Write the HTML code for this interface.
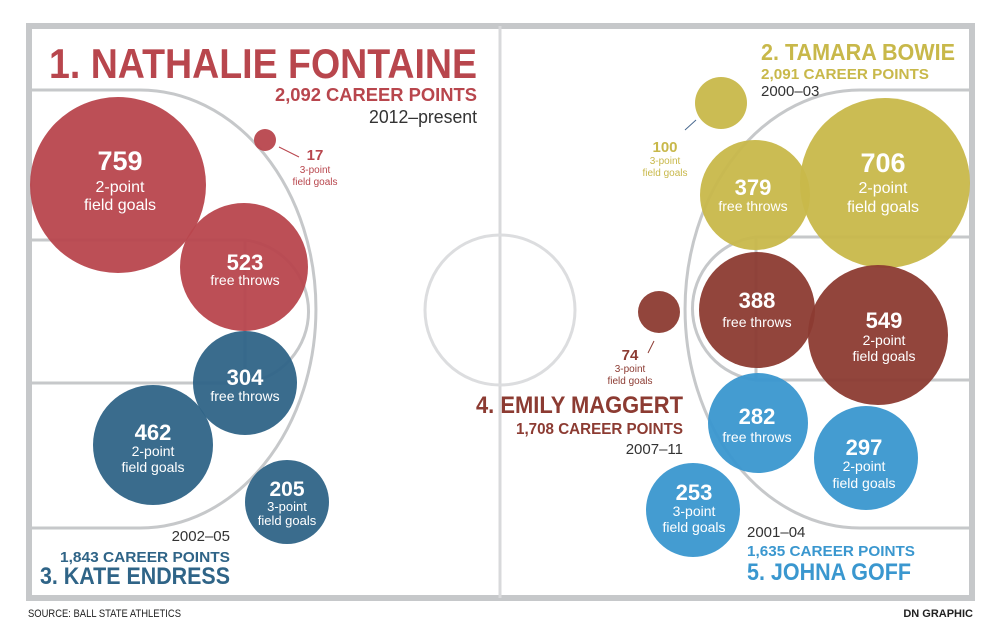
<!DOCTYPE html>
<html><head><meta charset="utf-8"><style>
html,body{margin:0;padding:0;background:#fff;}
svg{display:block;}
text{font-family:"Liberation Sans",sans-serif;}
.b{font-weight:bold;}
</style></head><body>
<svg width="1000" height="632" viewBox="0 0 1000 632" xmlns="http://www.w3.org/2000/svg">
<rect x="0" y="0" width="1000" height="632" fill="#fff"/>
<g fill="none" stroke="#c6c8ca">
<rect x="29" y="26" width="943" height="572" stroke-width="6"/>
<line x1="500" y1="26" x2="500" y2="598" stroke-width="3" stroke="#d8d9db"/>
<circle cx="500" cy="310" r="75" stroke-width="3" stroke="#dcdddf"/>
<path d="M30 90 H140 A176 219 0 0 1 140 528 H30" stroke-width="3"/>
<path d="M30 240 H245 V383 H30" stroke-width="3"/>
<path d="M245 240 A72 72 0 0 1 245 383" stroke-width="3"/>
<path d="M971 90 H860 A175 219 0 0 0 860 528 H971" stroke-width="3"/>
<path d="M971 237 H756 V380 H971" stroke-width="3"/>
<path d="M756 237 A72 72 0 0 0 756 380" stroke-width="3"/>
</g>
<g fill-opacity="0.95">
<circle cx="118" cy="185" r="88" fill="#b8464d"/>
<circle cx="244" cy="267" r="64" fill="#b8464d"/>
<circle cx="265" cy="140" r="11" fill="#b8464d"/>
<circle cx="245" cy="383" r="52" fill="#2f6487"/>
<circle cx="153" cy="445" r="60" fill="#2f6487"/>
<circle cx="287" cy="502" r="42" fill="#2f6487"/>
<circle cx="721" cy="103" r="26" fill="#c8b84a"/>
<circle cx="755" cy="195" r="55" fill="#c8b84a"/>
<circle cx="885" cy="183" r="85" fill="#c8b84a"/>
<circle cx="757" cy="310" r="58" fill="#8c3b32"/>
<circle cx="878" cy="335" r="70" fill="#8c3b32"/>
<circle cx="659" cy="312" r="21" fill="#8c3b32"/>
<circle cx="758" cy="423" r="50" fill="#3a97cf"/>
<circle cx="866" cy="458" r="52" fill="#3a97cf"/>
<circle cx="693" cy="510" r="47" fill="#3a97cf"/>
</g>
<line x1="279" y1="147" x2="299" y2="157" stroke="#b8464d" stroke-width="1"/>
<line x1="685" y1="130" x2="696" y2="120" stroke="#4a6a90" stroke-width="1"/>
<line x1="648" y1="353" x2="654" y2="341" stroke="#8c3b32" stroke-width="1"/>
<g fill="#fff" text-anchor="middle">
<text x="120" y="170" class="b" font-size="27">759</text>
<text x="120" y="192" font-size="16">2-point</text>
<text x="120" y="210" font-size="16">field goals</text>
<text x="245" y="270" class="b" font-size="22">523</text>
<text x="245" y="285" font-size="14">free throws</text>
<text x="245" y="385" class="b" font-size="22">304</text>
<text x="245" y="401" font-size="14">free throws</text>
<text x="153" y="440" class="b" font-size="22">462</text>
<text x="153" y="456" font-size="14">2-point</text>
<text x="153" y="472" font-size="14">field goals</text>
<text x="287" y="496" class="b" font-size="21">205</text>
<text x="287" y="511" font-size="13">3-point</text>
<text x="287" y="525" font-size="13">field goals</text>
<text x="753" y="195" class="b" font-size="22">379</text>
<text x="753" y="211" font-size="14">free throws</text>
<text x="883" y="172" class="b" font-size="27">706</text>
<text x="883" y="193" font-size="16">2-point</text>
<text x="883" y="212" font-size="16">field goals</text>
<text x="757" y="308" class="b" font-size="22">388</text>
<text x="757" y="327" font-size="14">free throws</text>
<text x="884" y="328" class="b" font-size="22">549</text>
<text x="884" y="345" font-size="14">2-point</text>
<text x="884" y="361" font-size="14">field goals</text>
<text x="757" y="424" class="b" font-size="22">282</text>
<text x="757" y="442" font-size="14">free throws</text>
<text x="864" y="455" class="b" font-size="22">297</text>
<text x="864" y="471" font-size="14">2-point</text>
<text x="864" y="488" font-size="14">field goals</text>
<text x="694" y="500" class="b" font-size="22">253</text>
<text x="694" y="516" font-size="14">3-point</text>
<text x="694" y="532" font-size="14">field goals</text>
</g>
<g text-anchor="middle">
<text x="315" y="160" class="b" font-size="15" fill="#b8464d">17</text>
<text x="315" y="173" font-size="10" fill="#b8464d">3-point</text>
<text x="315" y="185" font-size="10" fill="#b8464d">field goals</text>
<text x="665" y="152" class="b" font-size="15" fill="#c8b84a">100</text>
<text x="665" y="164" font-size="10" fill="#c8b84a">3-point</text>
<text x="665" y="176" font-size="10" fill="#c8b84a">field goals</text>
<text x="630" y="360" class="b" font-size="15" fill="#8c3b32">74</text>
<text x="630" y="372" font-size="10" fill="#8c3b32">3-point</text>
<text x="630" y="384" font-size="10" fill="#8c3b32">field goals</text>
</g>
<g text-anchor="end">
<text x="477" y="78" class="b" font-size="42" fill="#b8464d" textLength="428" lengthAdjust="spacingAndGlyphs">1. NATHALIE FONTAINE</text>
<text x="477" y="101" class="b" font-size="18" fill="#b8464d" textLength="202" lengthAdjust="spacingAndGlyphs">2,092 CAREER POINTS</text>
<text x="477" y="123" font-size="18" fill="#333" textLength="108" lengthAdjust="spacingAndGlyphs">2012–present</text>
<text x="683" y="413" class="b" font-size="24" fill="#8c3b32" textLength="207" lengthAdjust="spacingAndGlyphs">4. EMILY MAGGERT</text>
<text x="683" y="434" class="b" font-size="16" fill="#8c3b32" textLength="167" lengthAdjust="spacingAndGlyphs">1,708 CAREER POINTS</text>
<text x="683" y="454" font-size="15" fill="#333">2007–11</text>
<text x="230" y="541" font-size="15" fill="#333">2002–05</text>
<text x="230" y="562" class="b" font-size="15" fill="#2f6487" textLength="170" lengthAdjust="spacingAndGlyphs">1,843 CAREER POINTS</text>
<text x="230" y="584" class="b" font-size="24" fill="#2f6487" textLength="190" lengthAdjust="spacingAndGlyphs">3. KATE ENDRESS</text>
</g>
<text x="761" y="60" class="b" font-size="23" fill="#c8b84a" textLength="194" lengthAdjust="spacingAndGlyphs">2. TAMARA BOWIE</text>
<text x="761" y="79" class="b" font-size="15" fill="#c8b84a" textLength="168" lengthAdjust="spacingAndGlyphs">2,091 CAREER POINTS</text>
<text x="761" y="96" font-size="15" fill="#333">2000–03</text>
<text x="747" y="537" font-size="15" fill="#333">2001–04</text>
<text x="747" y="556" class="b" font-size="15" fill="#3a97cf" textLength="168" lengthAdjust="spacingAndGlyphs">1,635 CAREER POINTS</text>
<text x="747" y="580" class="b" font-size="24" fill="#3a97cf" textLength="164" lengthAdjust="spacingAndGlyphs">5. JOHNA GOFF</text>
<text x="28" y="617" font-size="11" fill="#222" textLength="153" lengthAdjust="spacingAndGlyphs">SOURCE: BALL STATE ATHLETICS</text>
<text x="973" y="617" class="b" font-size="11" fill="#222" text-anchor="end">DN GRAPHIC</text>
</svg>
</body></html>
